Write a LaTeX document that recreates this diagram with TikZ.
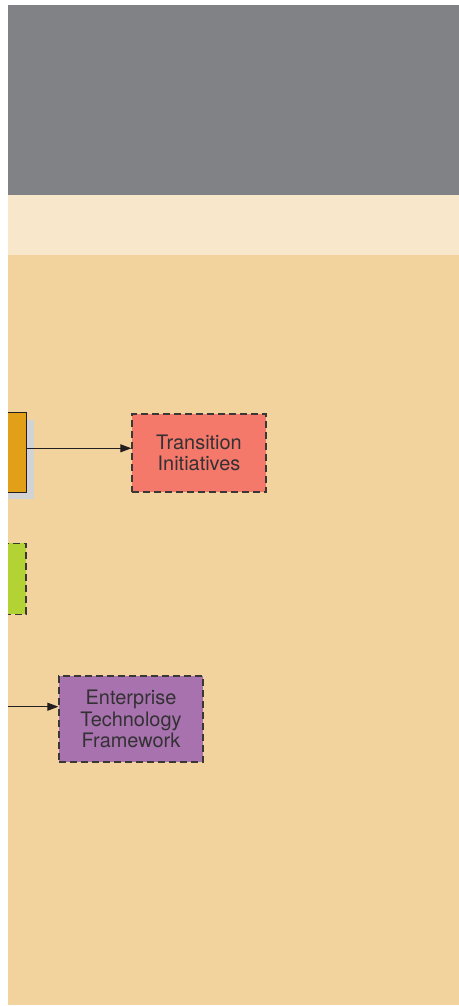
\documentclass[tikz,border=0pt]{standalone}
\usepackage{fontspec}
\setmainfont{TeX Gyre Heros}
\usetikzlibrary{arrows.meta}
\definecolor{hdrgray}{HTML}{818286}
\definecolor{cream}{HTML}{F8E7CA}
\definecolor{tan}{HTML}{F3D39D}
\definecolor{orangebox}{HTML}{E29F18}
\definecolor{salmon}{HTML}{F4796B}
\definecolor{limebox}{HTML}{B3D335}
\definecolor{purplebox}{HTML}{A872AE}
\definecolor{shadowgray}{HTML}{D1D3D4}
\definecolor{edgecol}{HTML}{3A3836}
\definecolor{txtcol}{HTML}{333133}
\definecolor{arrcol}{HTML}{231F20}
\tikzset{
  lbl/.style={font=\fontsize{20}{21.8}\selectfont, text=txtcol, align=center, inner sep=0pt},
  dashbox/.style={lbl, draw=edgecol, line width=1.3bp, dash pattern=on 7bp off 4bp, rectangle},
  solidbox/.style={lbl, draw=arrcol, line width=1.1bp, rectangle},
  arr/.style={draw=arrcol, line width=1bp, -{Triangle[length=11bp,width=8bp]}}
}
\begin{document}
\begin{tikzpicture}[x=1bp,y=-1bp]
\useasboundingbox (0,0) rectangle (459,1006);
\fill[white] (0,0) rectangle (459,1006);
\begin{scope}
\clip (8,5) rectangle (459,1005);
\fill[hdrgray] (8,5) rectangle (459,195);
\fill[cream] (8,195) rectangle (459,255);
\fill[tan] (8,255) rectangle (459,1005);
% shadow of orange box
\fill[shadowgray] (-33,420) rectangle (33.7,499.3);
\node[solidbox, fill=orangebox, minimum width=66.3bp, minimum height=80bp] (orange) at (-6.8,452.3) {};
\node[dashbox, fill=limebox, minimum width=66bp, minimum height=71bp] (lime) at (-7,578.8) {};
\node[dashbox, fill=salmon, minimum width=134bp, minimum height=78bp] (trans) at (199,453) {Transition\\Initiatives};
\node[dashbox, fill=purplebox, minimum width=144bp, minimum height=86bp] (etf) at (131,719) {Enterprise\\Technology\\Framework};
\coordinate (pstart) at (0,706.7);
\draw[arr] ([yshift=4bp]orange.east) -- ([yshift=4bp]orange.east -| trans.west);
\draw[arr] (pstart) -- (pstart -| etf.west);
\end{scope}
\end{tikzpicture}
\end{document}
